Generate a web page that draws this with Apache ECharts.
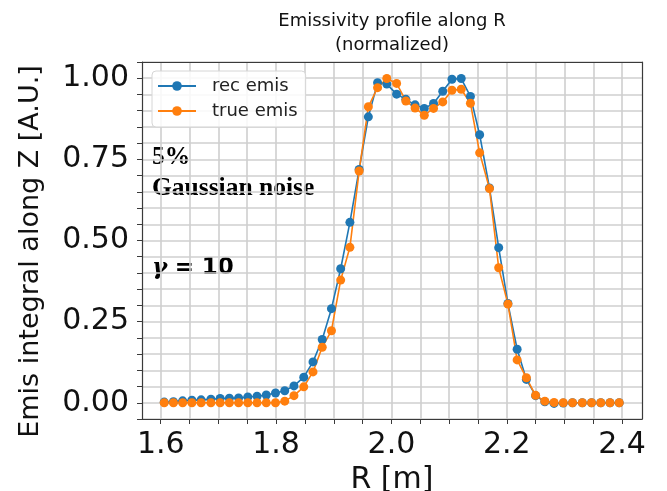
<!DOCTYPE html>
<html>
<head>
    <meta charset="utf-8">
    <title>Emissivity profile</title>
    <script src="https://cdn.jsdelivr.net/npm/echarts@6/dist/echarts.min.js"></script>
    <style>
        html, body { margin: 0; padding: 0; background: #fff; }
    </style>
</head>
<body>
<div id="main" style="width: 667px;height:491px;"></div>
<script type="text/javascript">

    // radial positions [m]
    var R = [1.606, 1.622, 1.638, 1.654, 1.670, 1.687, 1.703, 1.719, 1.735, 1.751,
             1.767, 1.783, 1.799, 1.815, 1.831, 1.848, 1.864, 1.880, 1.896, 1.912,
             1.928, 1.944, 1.960, 1.976, 1.992, 2.009, 2.025, 2.041, 2.057, 2.073,
             2.089, 2.105, 2.121, 2.137, 2.153, 2.170, 2.186, 2.202, 2.218, 2.234,
             2.250, 2.266, 2.282, 2.298, 2.314, 2.331, 2.347, 2.363, 2.379, 2.395];

    // reconstructed emissivity (normalized)
    var recEmis = [0.002, 0.003, 0.006, 0.008, 0.009, 0.011, 0.013, 0.014, 0.015, 0.018,
                   0.020, 0.024, 0.030, 0.037, 0.052, 0.079, 0.126, 0.195, 0.290, 0.413,
                   0.556, 0.719, 0.881, 0.986, 0.982, 0.951, 0.935, 0.918, 0.907, 0.922,
                   0.960, 0.997, 0.999, 0.944, 0.826, 0.662, 0.478, 0.306, 0.165, 0.072,
                   0.022, 0.003, -0.002, -0.001, 0.000, 0.000, 0.000, 0.000, 0.000, 0.000];

    // true emissivity (normalized)
    var trueEmis = [0.000, 0.000, 0.000, 0.000, 0.000, 0.000, 0.000, 0.000, 0.000, 0.000,
                    0.000, 0.000, 0.000, 0.005, 0.022, 0.049, 0.095, 0.171, 0.222, 0.378,
                    0.479, 0.714, 0.912, 0.971, 0.999, 0.984, 0.930, 0.908, 0.886, 0.907,
                    0.927, 0.963, 0.966, 0.923, 0.770, 0.660, 0.416, 0.304, 0.132, 0.077,
                    0.023, 0.005, 0.001, 0.000, 0.000, 0.000, 0.000, 0.000, 0.000, 0.000];

    var xLabels = [1.6, 1.8, 2.0, 2.2, 2.4];
    var xTicks = [1.6, 1.65, 1.7, 1.75, 1.8, 1.85, 1.9, 1.95, 2.0, 2.05,
                  2.1, 2.15, 2.2, 2.25, 2.3, 2.35, 2.4];
    var yLabels = [0, 0.25, 0.5, 0.75, 1.0];

    function pairs(xs, ys) {
        var out = [];
        for (var i = 0; i < xs.length; i++) out.push([xs[i], ys[i]]);
        return out;
    }

    var FONT = 'DejaVu Sans';
    var gridColor = '#cfcfcf';
    var spineColor = '#3a3a3a';
    var xMin = 1.5675, xMax = 2.4345;

    var myChart = echarts.init(document.getElementById('main'), null, {renderer: 'canvas'});

    var option = {
        animation: false,
        backgroundColor: '#fff',
        grid: {
            left: 142, right: 25, top: 62, bottom: 72,
            outerBoundsMode: 'none',
            containLabel: false,
            show: false
        },
        legend: {
            orient: 'vertical',
            left: 152, top: 71,
            backgroundColor: 'rgba(255,255,255,0.85)',
            borderColor: '#d6d6d6', borderWidth: 1, borderRadius: 4,
            padding: [6, 8, 7, 5],
            itemGap: 7,
            itemWidth: 38, itemHeight: 12,
            textStyle: {fontFamily: FONT, fontSize: 18, color: '#222', padding: [0, 0, 0, 11]},
            data: ['rec emis', 'true emis']
        },
        xAxis: [{
            type: 'value',
            min: xMin, max: xMax,
            name: 'R [m]',
            nameLocation: 'middle',
            nameGap: 43,
            nameTextStyle: {fontFamily: FONT, fontSize: 30, color: '#111'},
            axisLine: {show: true, onZero: false, lineStyle: {color: spineColor, width: 1.2}},
            axisTick: {show: true, inside: false, length: 5, customValues: xTicks,
                       lineStyle: {color: spineColor}},
            axisLabel: {customValues: xLabels, margin: 11,
                        fontFamily: FONT, fontSize: 30, color: '#111',
                        formatter: function (v) { return v.toFixed(1); }},
            splitLine: {show: true, lineStyle: {color: gridColor, width: 1.6}}
        }, {
            type: 'value',
            position: 'top',
            min: xMin, max: xMax,
            axisLine: {show: true, onZero: false, lineStyle: {color: spineColor, width: 1.2}},
            axisTick: {show: false},
            axisLabel: {show: false},
            splitLine: {show: false}
        }],
        yAxis: [{
            type: 'value',
            min: -0.05, max: 1.05, interval: 0.05,
            name: 'Emis integral along Z [A.U.]',
            nameLocation: 'middle',
            nameGap: 98,
            nameTextStyle: {fontFamily: FONT, fontSize: 27, color: '#111', padding: [0, 22, 0, 0]},
            axisLine: {show: true, onZero: false, lineStyle: {color: spineColor, width: 1.2}},
            axisTick: {show: true, length: 5, lineStyle: {color: spineColor}},
            axisLabel: {
                margin: 13, fontFamily: FONT, fontSize: 30, color: '#111',
                formatter: function (v) {
                    for (var k = 0; k < yLabels.length; k++) {
                        if (Math.abs(v - yLabels[k]) < 1e-6) return yLabels[k].toFixed(2);
                    }
                    return '';
                }
            },
            splitLine: {show: true, lineStyle: {color: gridColor, width: 1.6}}
        }, {
            type: 'value',
            position: 'right',
            min: -0.05, max: 1.05,
            axisLine: {show: true, onZero: false, lineStyle: {color: spineColor, width: 1.2}},
            axisTick: {show: false},
            axisLabel: {show: false},
            splitLine: {show: false}
        }],
        graphic: [
            {
                type: 'text', x: 392, y: 9,
                style: {
                    text: 'Emissivity profile along R\n(normalized)',
                    font: '18px "DejaVu Sans"', fill: '#111',
                    align: 'center', lineHeight: 24
                }
            },
            {
                type: 'text', left: 152, top: 144,
                style: {text: '5%', font: 'bold 25.5px "Liberation Serif"', fill: '#000'}
            },
            {
                type: 'text', left: 152, top: 175,
                style: {text: 'Gaussian noise', font: 'bold 25.5px "Liberation Serif"', fill: '#000'}
            },
            {
                type: 'text', left: 152, top: 257,
                style: {
                    text: '{g|γ} {e|=} {e|10}',
                    font: 'bold 22px "DejaVu Sans"',
                    rich: {
                        g: {fontFamily: 'DejaVu Serif', fontStyle: 'italic', fontWeight: 'bold', fontSize: 23, fill: '#000'},
                        e: {fontFamily: 'DejaVu Sans', fontWeight: 'bold', fontSize: 23, fill: '#000'}
                    }
                }
            }
        ],
        series: [
            {
                name: 'rec emis',
                type: 'line',
                data: pairs(R, recEmis),
                symbol: 'circle', symbolSize: 9, showSymbol: true,
                itemStyle: {color: '#1f77b4'},
                lineStyle: {color: '#1f77b4', width: 1.6}
            },
            {
                name: 'true emis',
                type: 'line',
                data: pairs(R, trueEmis),
                symbol: 'circle', symbolSize: 9, showSymbol: true,
                itemStyle: {color: '#ff7f0e'},
                lineStyle: {color: '#ff7f0e', width: 1.6}
            }
        ]
    };

    myChart.setOption(option);

</script>
</body>
</html>
